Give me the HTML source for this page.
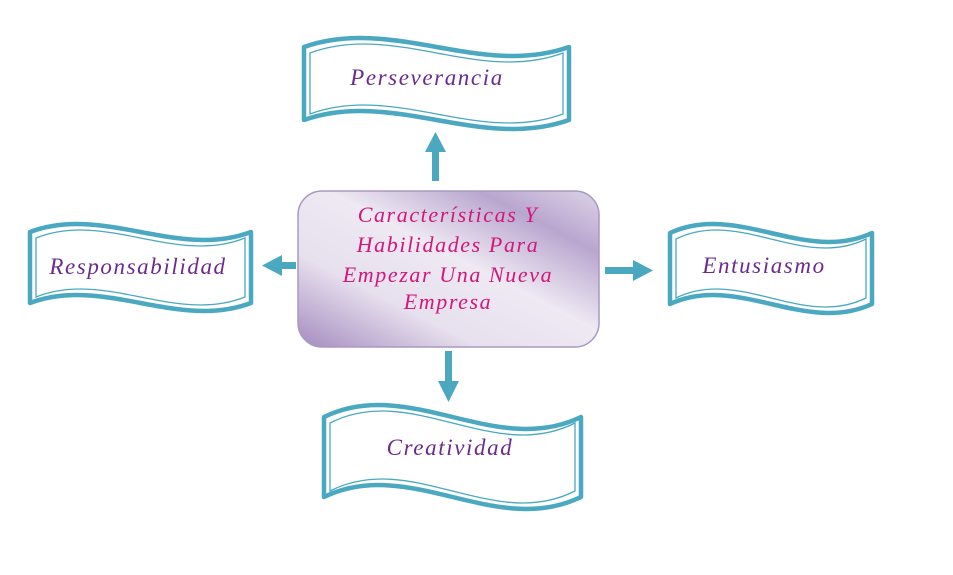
<!DOCTYPE html>
<html><head><meta charset="utf-8"><style>
html,body{margin:0;padding:0;background:#fff;width:953px;height:575px;overflow:hidden}
svg{display:block}
text{font-family:"Liberation Serif",serif;font-style:italic;letter-spacing:1.6px}
</style></head><body>
<svg id="s" width="953" height="575" viewBox="0 0 953 575">
<defs>
<linearGradient id="g" x1="0" y1="1" x2="1" y2="0">
<stop offset="0" stop-color="#a48bbf"/>
<stop offset="0.3" stop-color="#e7e0ee"/>
<stop offset="0.55" stop-color="#eee9f3"/>
<stop offset="0.8" stop-color="#b9a6cf"/>
<stop offset="1" stop-color="#ddd3e8"/>
</linearGradient>
</defs>
<g id="w"></g>
<rect x="298" y="191" width="301" height="156" rx="24" fill="url(#g)" stroke="#a999c0" stroke-width="1.5"/>
<g fill="#4aa8c0" stroke="none">
<rect x="432" y="150" width="7" height="31"/><polygon points="425,152 446,152 435.5,132"/>
<rect x="280" y="262" width="16" height="7"/><polygon points="282,255 282,276 262,265.5"/>
<rect x="605" y="267" width="30" height="7"/><polygon points="633,260 633,281 653,270.5"/>
<rect x="445" y="351" width="7" height="32"/><polygon points="438,381 459,381 448.5,402"/>
</g>
<g fill="#d0197a" font-size="22" text-anchor="middle">
<text x="448" y="222">Características Y</text>
<text x="448" y="252">Habilidades Para</text>
<text x="448" y="282">Empezar Una Nueva</text>
<text x="448" y="309">Empresa</text>
</g>
<g fill="#6b2a8e" font-size="23" text-anchor="middle">
<text x="427" y="85">Perseverancia</text>
<text x="138" y="274">Responsabilidad</text>
<text x="764" y="273">Entusiasmo</text>
<text x="450" y="455">Creatividad</text>
</g>
</svg>
<script>
function wave(x0,x1,yt,yb,A){
  var w=x1-x0,c=A/0.289;
  return "M"+x0+","+yt+" C"+(x0+w/3)+","+(yt-c)+" "+(x0+2*w/3)+","+(yt+c)+" "+x1+","+yt+
    " L"+x1+","+yb+" C"+(x0+2*w/3)+","+(yb+c)+" "+(x0+w/3)+","+(yb-c)+" "+x0+","+yb+" Z";
}
var boxes=[[304,569,47,120,9],[30,251,232,303,8],[670,872,233,304,9],[324,581,417,497,12]];
var g=document.getElementById("w"),h="";
boxes.forEach(function(b){
  h+='<path d="'+wave(b[0],b[1],b[2],b[3],b[4])+'" fill="#fff" stroke="#4aa8c0" stroke-width="4.5" stroke-linejoin="round"/>';
  h+='<path d="'+wave(b[0]+6,b[1]-6,b[2]+6,b[3]-6,b[4])+'" fill="none" stroke="#4aa8c0" stroke-width="1.3"/>';
});
g.innerHTML=h;
</script>
</body></html>
